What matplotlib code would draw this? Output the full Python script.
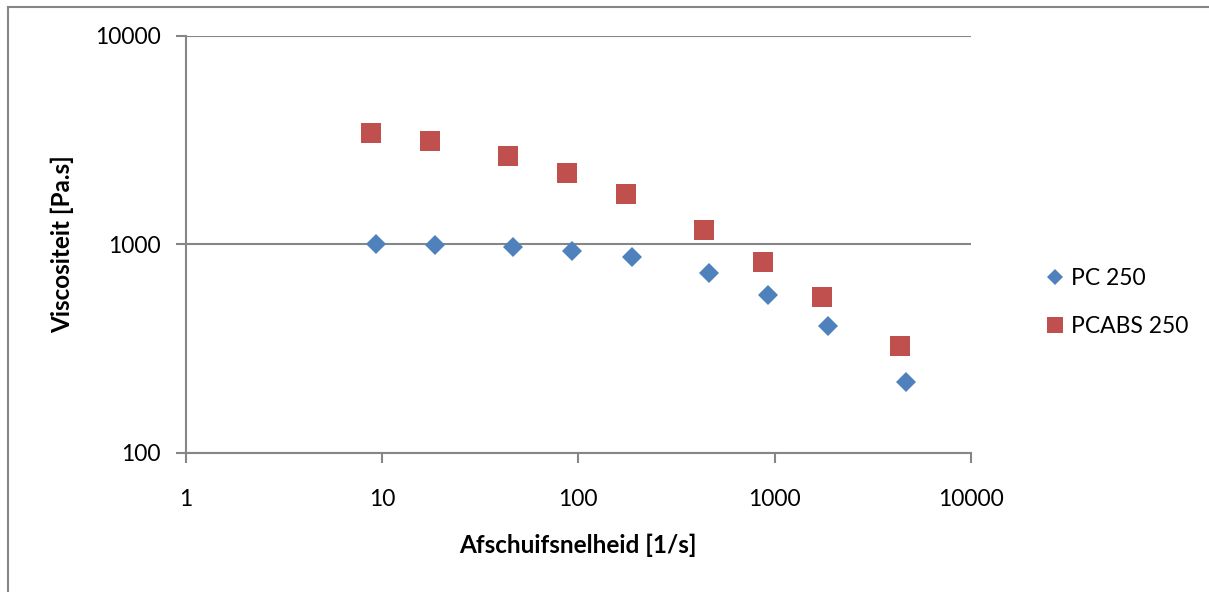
import matplotlib.pyplot as plt
from matplotlib.lines import Line2D
from matplotlib.ticker import FixedLocator, NullLocator

plt.rcParams['font.family'] = ['Lato', 'DejaVu Sans']

# shear rate [1/s] and viscosity [Pa.s]
pc_rate = [9.3, 18.7, 46.5, 93, 188, 462, 925, 1870, 4670]
pc_visc = [1000, 990, 968, 927, 867, 727, 570, 405, 218]
pcabs_rate = [8.8, 17.6, 43.9, 87.7, 175, 438, 874, 1747, 4360]
pcabs_visc = [3410, 3130, 2640, 2180, 1730, 1165, 825, 560, 326]

x_ticks = [1, 10, 100, 1000, 10000]
y_ticks = [100, 1000, 10000]

blue = '#4F81BD'
red = '#C0504D'
grey = '#868686'

W, H, DPI = 1209, 592, 100
fig = plt.figure(figsize=(W / DPI, H / DPI), dpi=DPI)

# outer chart frame (only left and top edges visible)
fig.add_artist(Line2D([8 / W, 8 / W], [0, 1 - 7 / H], color=grey, lw=1.5,
                      transform=fig.transFigure))
fig.add_artist(Line2D([8 / W, 1], [1 - 7 / H, 1 - 7 / H], color=grey, lw=1.5,
                      transform=fig.transFigure))

left, right = 185.5 / W, 971 / W
bottom, top = 1 - 452.7 / H, 1 - 35.5 / H
ax = fig.add_axes([left, bottom, right - left, top - bottom])

ax.set_xscale('log')
ax.set_yscale('log')
ax.set_xlim(1, 10000)
ax.set_ylim(100, 10000)

ax.plot(pc_rate, pc_visc, 'D', color=blue, ms=10.5, mew=0, label='PC 250',
        zorder=3)
ax.plot(pcabs_rate, pcabs_visc, 's', color=red, ms=14.5, mew=0,
        label='PCABS 250', zorder=3)

ax.xaxis.set_major_locator(FixedLocator(x_ticks))
ax.yaxis.set_major_locator(FixedLocator(y_ticks))
ax.xaxis.set_minor_locator(NullLocator())
ax.yaxis.set_minor_locator(NullLocator())
ax.set_xticklabels([str(t) for t in x_ticks])
ax.set_yticklabels([str(t) for t in y_ticks])

ax.grid(axis='y', color=grey, lw=1.5)
ax.set_axisbelow(True)
for side in ('top', 'right'):
    ax.spines[side].set_visible(False)
for side in ('left', 'bottom'):
    ax.spines[side].set_color(grey)
    ax.spines[side].set_linewidth(1.5)

ax.tick_params(axis='both', which='major', direction='out', length=7,
               width=1.5, color=grey, labelsize=16.5, labelcolor='black')
ax.tick_params(axis='x', pad=19)
ax.tick_params(axis='y', pad=11)

ax.set_xlabel('Afschuifsnelheid [1/s]', fontsize=17.5, fontweight='bold',
              labelpad=17)
ax.set_ylabel('Viscositeit [Pa.s]', fontsize=17.5, fontweight='bold',
              labelpad=15)

ax.legend(loc='center left', bbox_to_anchor=(1.063, 0.36), frameon=False,
          fontsize=16.5, handletextpad=0.1, labelspacing=1.15, handlelength=1.2,
          markerscale=0.8)

fig.savefig('out.png', dpi=DPI)
